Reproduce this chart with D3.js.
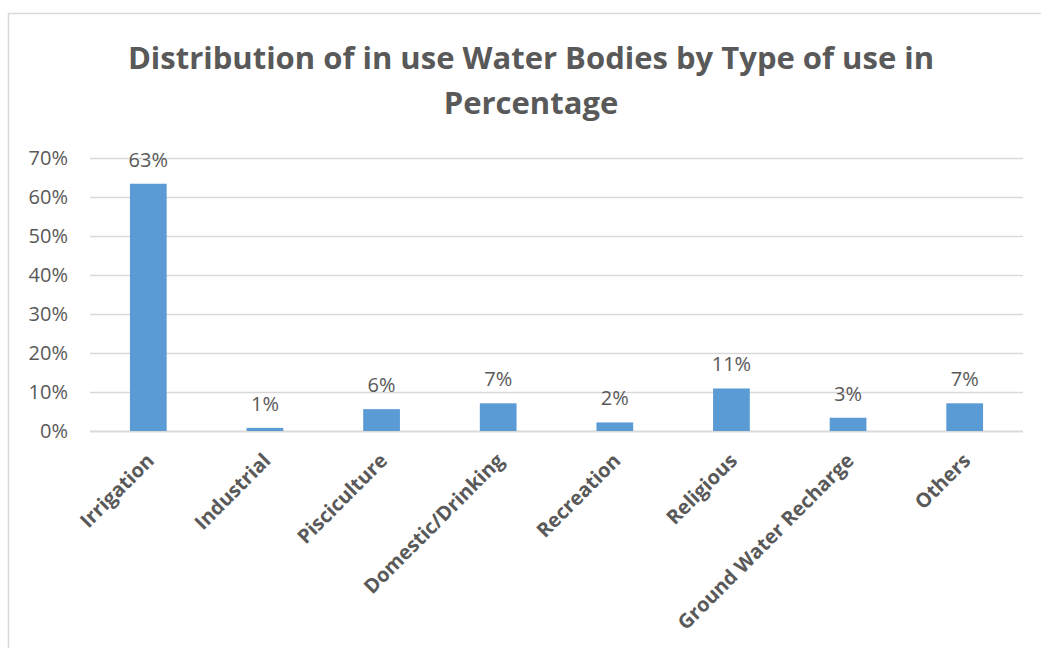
<!DOCTYPE html>
<html>
<head>
<meta charset="utf-8">
<script src="https://cdn.jsdelivr.net/npm/d3@7"></script>
<style>
  html, body { margin: 0; padding: 0; background: #fff; }
  svg { display: block; }
</style>
</head>
<body>
<svg id="chart" width="1041" height="648"></svg>
<script>
// Share of in-use water bodies by type of use
const categories = ["Irrigation", "Industrial", "Pisciculture", "Domestic/Drinking",
                    "Recreation", "Religious", "Ground Water Recharge", "Others"];
const shares = [0.634, 0.008, 0.056, 0.071, 0.022, 0.109, 0.034, 0.071];
const yTicks = [0, 0.1, 0.2, 0.3, 0.4, 0.5, 0.6, 0.7];
const titleLines = ["Distribution of in use Water Bodies by Type of use in", "Percentage"];

const svg = d3.select("#chart");
const textColor = "#595959";
const gridColor = "#d9d9d9";
const barColor = "#5b9bd5";
const font = "'Open Sans', sans-serif";

// chart frame (continues past the visible area on the right and bottom)
svg.append("rect")
  .attr("x", 8.5).attr("y", 13.5)
  .attr("width", 1100).attr("height", 700)
  .attr("fill", "#fff")
  .attr("stroke", gridColor).attr("stroke-width", 1.5);

// title
svg.append("g").selectAll("text")
  .data(titleLines)
  .join("text")
  .attr("x", 531)
  .attr("y", (d, i) => 69 + i * 45)
  .attr("text-anchor", "middle")
  .attr("font-family", font)
  .attr("font-weight", "bold")
  .attr("font-size", 31)
  .attr("fill", textColor)
  .text(d => d);

const x = d3.scaleBand()
  .domain(categories)
  .range([90, 1023])
  .paddingInner(0.685)
  .paddingOuter(0.3425);

const y = d3.scaleLinear()
  .domain([0, 0.7])
  .range([431, 158]);

// horizontal gridlines
svg.append("g").selectAll("line")
  .data(yTicks)
  .join("line")
  .attr("x1", 90).attr("x2", 1023)
  .attr("y1", d => Math.round(y(d)) + 0.5)
  .attr("y2", d => Math.round(y(d)) + 0.5)
  .attr("stroke", gridColor)
  .attr("stroke-width", d => d === 0 ? 2 : 1.5);

// y axis labels
const yAxis = svg.append("g")
  .attr("transform", "translate(68,0)")
  .call(d3.axisLeft(y).tickValues(yTicks).tickFormat(d3.format(".0%")).tickSize(0).tickPadding(0));
yAxis.select(".domain").remove();
yAxis.selectAll("text")
  .attr("font-family", font)
  .attr("font-size", 20)
  .attr("fill", textColor);

// bars
svg.append("g").selectAll("rect")
  .data(shares)
  .join("rect")
  .attr("x", (d, i) => x(categories[i]))
  .attr("width", x.bandwidth())
  .attr("y", d => y(d))
  .attr("height", d => y(0) - y(d))
  .attr("fill", barColor);

// value labels
svg.append("g").selectAll("text")
  .data(shares)
  .join("text")
  .attr("x", (d, i) => x(categories[i]) + x.bandwidth() / 2)
  .attr("y", d => y(d) - 17)
  .attr("text-anchor", "middle")
  .attr("font-family", font)
  .attr("font-size", 20)
  .attr("fill", textColor)
  .text(d => d3.format(".0%")(d));

// category labels, rotated
const xAxis = svg.append("g")
  .attr("transform", "translate(0,431)")
  .call(d3.axisBottom(x).tickSize(0).tickPadding(0));
xAxis.select(".domain").remove();
xAxis.selectAll("text")
  .attr("font-family", font)
  .attr("font-weight", "bold")
  .attr("font-size", 20)
  .attr("fill", textColor)
  .attr("text-anchor", "end")
  .attr("dy", 0)
  .attr("y", 0)
  .attr("transform", "translate(7,31) rotate(-45)");
</script>
</body>
</html>
